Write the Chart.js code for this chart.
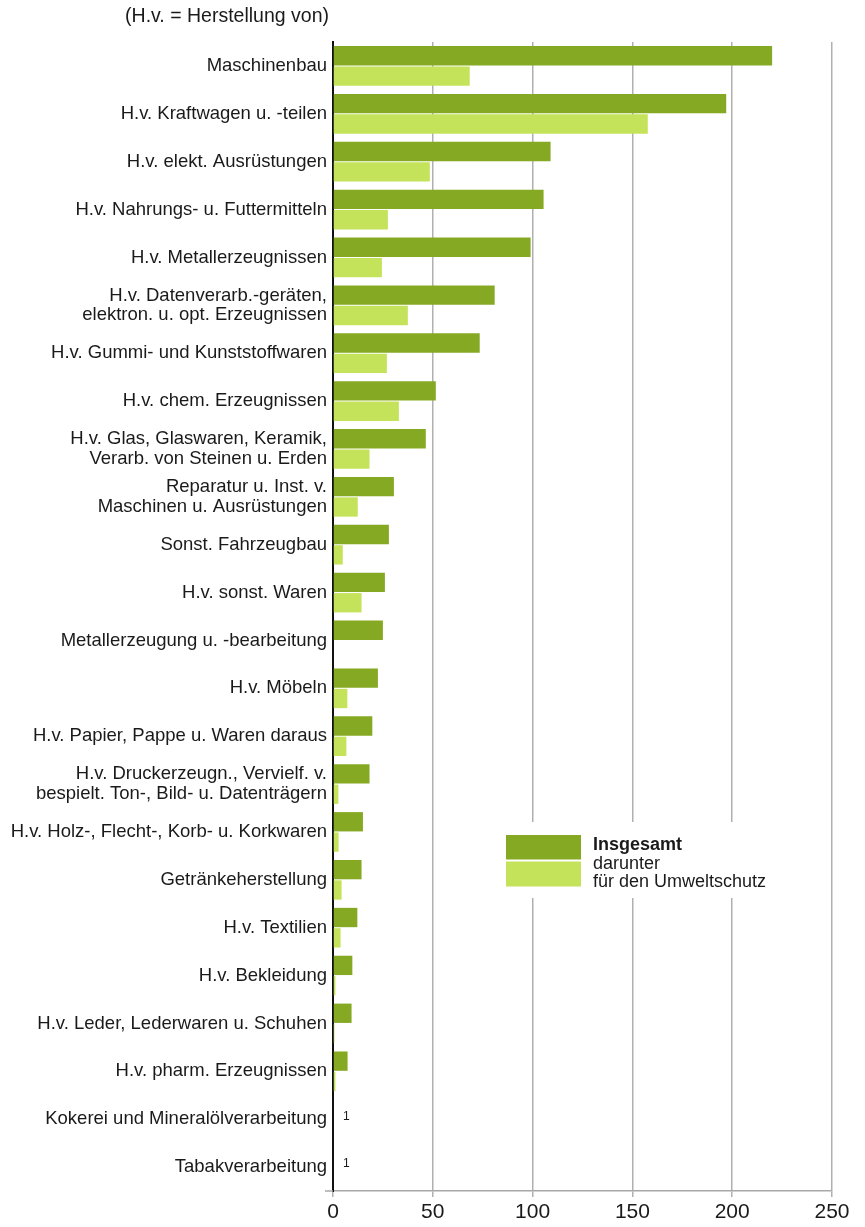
<!DOCTYPE html>
<html>
<head>
<meta charset="utf-8">
<script src="https://cdn.jsdelivr.net/npm/chart.js@4/dist/chart.umd.min.js"></script>
<style>
  html, body { margin: 0; padding: 0; background: #ffffff; }
  #wrap { position: relative; width: 865px; height: 1227px; }
</style>
</head>
<body>
<div id="wrap"><canvas id="c"></canvas></div>
<script>
const categories = [
  'Maschinenbau',
  'H.v. Kraftwagen u. -teilen',
  'H.v. elekt. Ausrüstungen',
  'H.v. Nahrungs- u. Futtermitteln',
  'H.v. Metallerzeugnissen',
  ['H.v. Datenverarb.-geräten,', 'elektron. u. opt. Erzeugnissen'],
  'H.v. Gummi- und Kunststoffwaren',
  'H.v. chem. Erzeugnissen',
  ['H.v. Glas, Glaswaren, Keramik,', 'Verarb. von Steinen u. Erden'],
  ['Reparatur u. Inst. v.', 'Maschinen u. Ausrüstungen'],
  'Sonst. Fahrzeugbau',
  'H.v. sonst. Waren',
  'Metallerzeugung u. -bearbeitung',
  'H.v. Möbeln',
  'H.v. Papier, Pappe u. Waren daraus',
  ['H.v. Druckerzeugn., Vervielf. v.', 'bespielt. Ton-, Bild- u. Datenträgern'],
  'H.v. Holz-, Flecht-, Korb- u. Korkwaren',
  'Getränkeherstellung',
  'H.v. Textilien',
  'H.v. Bekleidung',
  'H.v. Leder, Lederwaren u. Schuhen',
  'H.v. pharm. Erzeugnissen',
  'Kokerei und Mineralölverarbeitung',
  'Tabakverarbeitung'
];
const insgesamt = [220, 197, 109, 105.5, 99, 81, 73.5, 51.5, 46.5, 30.5, 28, 26, 25, 22.5, 19.7, 18.3, 15, 14.3, 12.2, 9.7, 9.3, 7.3, null, null];
const umweltschutz = [68.5, 157.7, 48.5, 27.5, 24.5, 37.5, 27, 33, 18.3, 12.4, 4.9, 14.3, 0, 7.2, 6.7, 2.7, 2.8, 4.3, 3.8, 1.2, 0.7, 1.2, null, null];
const footnotes = ['', '', '', '', '', '', '', '', '', '', '', '', '', '', '', '', '', '', '', '', '', '', '1', '1'];
const xTicks = [0, 50, 100, 150, 200, 250];
const seriesNames = ['Insgesamt', 'darunter für den Umweltschutz'];
const legendLines = [['Insgesamt'], ['darunter', 'für den Umweltschutz']];
const titleText = '(H.v. = Herstellung von)';

const FONT = "'Liberation Sans', Arial, Helvetica, sans-serif";
const DARK = '#85a923';
const LIGHT = '#c4e35a';
const TEXT = '#1a1a1a';

const extras = {
  id: 'extras',
  afterDraw(chart) {
    const ctx = chart.ctx;
    const xs = chart.scales.x, ys = chart.scales.y;
    const area = chart.chartArea;
    ctx.save();
    // axis line extension to the left
    ctx.strokeStyle = '#a8a8a8';
    ctx.lineWidth = 1.5;
    ctx.beginPath();
    ctx.moveTo(area.left - 8, area.bottom);
    ctx.lineTo(area.left, area.bottom);
    ctx.stroke();
    // title
    ctx.fillStyle = TEXT;
    ctx.font = '19.5px ' + FONT;
    ctx.textAlign = 'right';
    ctx.textBaseline = 'middle';
    ctx.fillText(titleText, area.left - 4, 17);
    // footnotes
    ctx.font = '12px ' + FONT;
    ctx.textAlign = 'left';
    footnotes.forEach((t, i) => {
      if (!t) return;
      ctx.fillText(t, xs.getPixelForValue(0) + 10, ys.getPixelForValue(i) - 3);
    });
    // legend
    const lx = 506, ly = 835;
    ctx.fillStyle = '#ffffff';
    ctx.fillRect(lx - 8, ly - 13, 292, 76);
    ctx.fillStyle = DARK;
    ctx.fillRect(lx, ly, 75, 24.5);
    ctx.fillStyle = LIGHT;
    ctx.fillRect(lx, ly + 26.5, 75, 25);
    ctx.fillStyle = TEXT;
    ctx.font = 'bold 18px ' + FONT;
    ctx.textBaseline = 'middle';
    ctx.fillText(legendLines[0][0], lx + 87, ly + 10);
    ctx.font = '18px ' + FONT;
    ctx.fillText(legendLines[1][0], lx + 87, ly + 29);
    ctx.fillText(legendLines[1][1], lx + 87, ly + 47);
    ctx.restore();
  }
};

new Chart(document.getElementById('c'), {
  type: 'bar',
  data: {
    labels: categories,
    datasets: [
      { label: seriesNames[0], data: insgesamt, backgroundColor: DARK,
        categoryPercentage: 0.85, barPercentage: 0.95 },
      { label: seriesNames[1], data: umweltschutz, backgroundColor: LIGHT,
        categoryPercentage: 0.85, barPercentage: 0.95 }
    ]
  },
  options: {
    indexAxis: 'y',
    responsive: true,
    maintainAspectRatio: false,
    animation: false,
    layout: { padding: { top: 42, right: 33, left: 0, bottom: 0 } },
    plugins: {
      legend: { display: false },
      tooltip: { enabled: false },
      title: { display: false }
    },
    scales: {
      x: {
        type: 'linear',
        position: 'bottom',
        min: 0,
        max: 250,
        afterBuildTicks(scale) { scale.ticks = xTicks.map(v => ({ value: v })); },
        afterFit(scale) { scale.height = 36; },
        grid: {
          color: '#b0b0b0',
          lineWidth: 1.5,
          drawTicks: true,
          tickLength: 6
        },
        border: { display: true, color: '#a8a8a8', width: 1.5 },
        ticks: {
          color: TEXT,
          font: { family: FONT, size: 21 },
          padding: 3,
          maxRotation: 0
        }
      },
      y: {
        afterFit(scale) { scale.width = 333; },
        grid: { display: false, drawTicks: false },
        border: { display: true, color: '#111111', width: 2 },
        ticks: {
          color: TEXT,
          font: { family: FONT, size: 18.5, lineHeight: 1.05 },
          padding: 6,
          autoSkip: false
        }
      }
    }
  },
  plugins: [extras]
});
</script>
</body>
</html>
